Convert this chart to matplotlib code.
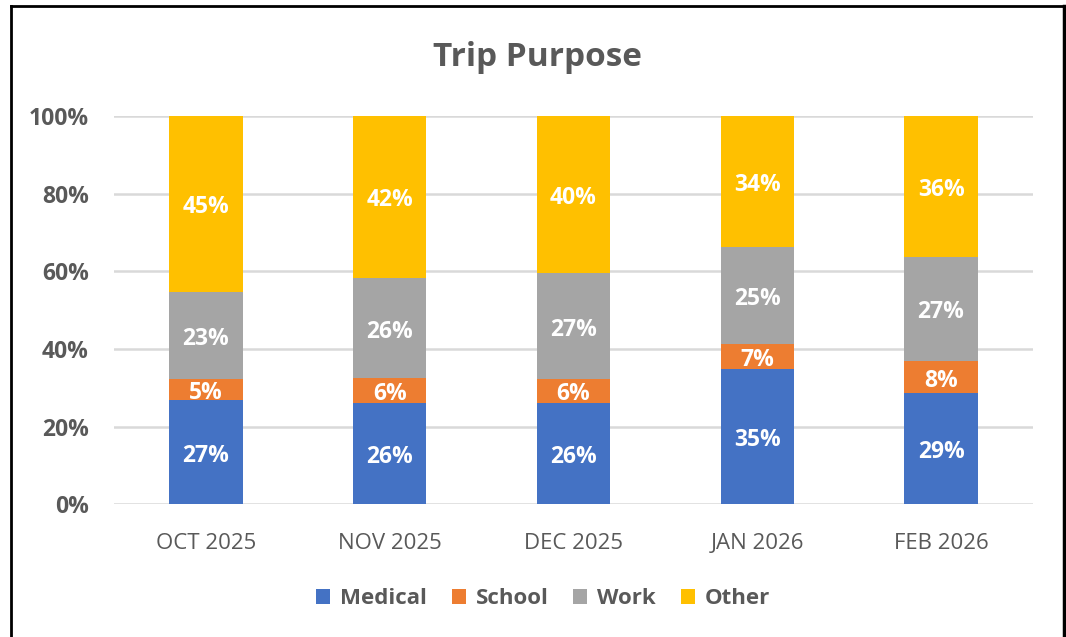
import matplotlib
matplotlib.use("Agg")
import matplotlib.pyplot as plt
from matplotlib.lines import Line2D
from matplotlib.patches import Patch
from matplotlib.transforms import offset_copy
import numpy as np

months = ["OCT 2025", "NOV 2025", "DEC 2025", "JAN 2026", "FEB 2026"]
series_names = ["Medical", "School", "Work", "Other"]
medical = [26.8, 26.0, 26.2, 34.8, 28.6]
school = [5.4, 6.4, 6.0, 6.6, 8.3]
work = [22.6, 26.0, 27.4, 24.9, 26.8]
other = [45.2, 41.6, 40.4, 33.7, 36.3]
colors = ["#4472C4", "#ED7D31", "#A5A5A5", "#FFC000"]
yticks = [0, 20, 40, 60, 80, 100]

plt.rcParams['font.family'] = ['Open Sans', 'DejaVu Sans']
W, H = 1066, 637
fig = plt.figure(figsize=(W / 100, H / 100), dpi=100)
ax = fig.add_axes([114 / W, (H - 504.3) / H, (1033 - 114) / W, (504.3 - 116) / H])
label_tr = offset_copy(ax.transData, fig=fig, x=0, y=-3.5, units="dots")

x = np.arange(len(months))
bottom = np.zeros(len(months))
for name, vals, c in zip(series_names, [medical, school, work, other], colors):
    vals = np.array(vals)
    ax.bar(x, vals, 0.4, bottom=bottom, color=c, label=name, zorder=3)
    for xi, b, v in zip(x, bottom, vals):
        ax.text(xi, b + v / 2, f"{round(v):.0f}%", ha="center", va="center",
                color="white", fontsize=16.5, fontweight="bold", zorder=4,
                transform=label_tr)
    bottom += vals

ax.set_xlim(-0.5, len(months) - 0.5)
ax.set_ylim(0, 100)
ax.set_yticks(yticks)
ax.set_yticklabels([f"{t}%" for t in yticks], fontsize=16.5, fontweight="bold", color="#595959")
ax.set_xticks(x)
ax.set_xticklabels(months, fontsize=16, color="#595959")
ax.tick_params(axis="both", length=0)
ax.tick_params(axis="y", pad=18)
ax.tick_params(axis="x", pad=21)
ax.grid(axis="y", color="#D9D9D9", linewidth=1.8, zorder=0)
for s in ax.spines.values():
    s.set_visible(False)

fig.text(537 / W, 1 - 58 / H, "Trip Purpose", ha="center", va="center",
         fontsize=24, fontweight="bold", color="#595959")

handles = [Patch(facecolor=c, edgecolor="none") for c in colors]
leg = fig.legend(handles, series_names, loc="center", bbox_to_anchor=(543 / W, 1 - 599 / H),
                 ncol=4, frameon=False, handlelength=0.63, handleheight=0.63,
                 handletextpad=0.45, columnspacing=1.12,
                 prop={"size": 16, "weight": "bold"})
for t in leg.get_texts():
    t.set_color("#595959")

# outer frame
fig.add_artist(Line2D([11 / W, 11 / W], [1 - 6 / H, -0.05], transform=fig.transFigure,
                      color="black", linewidth=2))
fig.add_artist(Line2D([11 / W, 1064 / W], [1 - 6 / H, 1 - 6 / H], transform=fig.transFigure,
                      color="black", linewidth=2))
fig.add_artist(Line2D([1064 / W, 1064 / W], [1 - 6 / H, -0.05], transform=fig.transFigure,
                      color="black", linewidth=2.5))

fig.savefig("out.png", dpi=100)
